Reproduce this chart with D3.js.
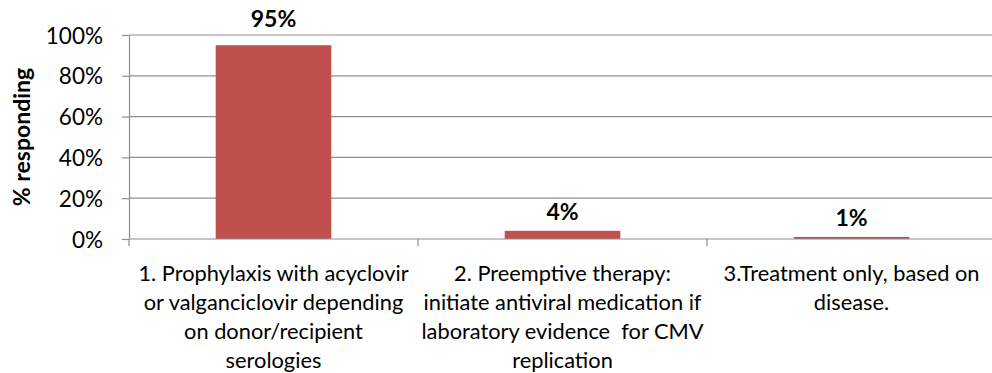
<!DOCTYPE html>
<html>
<head>
<meta charset="utf-8">
<script src="https://cdn.jsdelivr.net/npm/d3@7"></script>
<style>
  html, body { margin: 0; padding: 0; background: #fff; }
  svg { display: block; font-family: Lato, "Open Sans", sans-serif; }
</style>
</head>
<body>
<svg id="chart" width="992" height="373"></svg>
<script>
// Survey responses: approach to CMV management
const categories = [
  ["1. Prophylaxis with acyclovir", "or valganciclovir depending", "on donor/recipient", "serologies"],
  ["2. Preemptive therapy:", "initiate antiviral medication if", "laboratory evidence  for CMV", "replication"],
  ["3.Treatment only, based on", "disease."]
];
const values = [95, 4, 1];
const valueLabels = ["95%", "4%", "1%"];
const yTicks = [0, 20, 40, 60, 80, 100];
const yTickLabels = ["0%", "20%", "40%", "60%", "80%", "100%"];
const yTitle = "% responding";

const svg = d3.select("#chart");
const margin = { left: 129, right: -4, top: 35, bottom: 134 };
const W = 992, H = 373;
const innerW = W - margin.left - margin.right;
const innerH = H - margin.top - margin.bottom;

const g = svg.append("g").attr("transform", `translate(${margin.left},${margin.top})`);

const x = d3.scaleBand().domain(d3.range(categories.length)).range([0, innerW])
  .paddingInner(0.6).paddingOuter(0.3);
const xOuter = d3.scaleBand().domain(d3.range(categories.length)).range([0, innerW]);
const y = d3.scaleLinear().domain([0, 100]).range([innerH, 0]);

const gridColor = "#8f8f8f";

// horizontal gridlines
g.append("g").selectAll("line").data(yTicks.filter(d => d > 0)).join("line")
  .attr("x1", 0).attr("x2", innerW)
  .attr("y1", d => y(d)).attr("y2", d => y(d))
  .attr("stroke", gridColor).attr("stroke-width", 1.2);

// y axis
const yAxis = d3.axisLeft(y).tickValues(yTicks).tickSize(7).tickPadding(19)
  .tickFormat((d, i) => yTickLabels[i]);
const ya = g.append("g").call(yAxis);
ya.select(".domain").attr("stroke", gridColor).attr("stroke-width", 1.2);
ya.selectAll(".tick line").attr("stroke", gridColor).attr("stroke-width", 1.2);
ya.selectAll(".tick text").attr("font-size", 22.5).attr("fill", "#000")
  .attr("font-family", "Lato, sans-serif").attr("dy", "0.36em");

// bars
g.append("g").selectAll("rect").data(values).join("rect")
  .attr("x", (d, i) => x(i))
  .attr("width", x.bandwidth())
  .attr("y", d => y(d))
  .attr("height", d => innerH - y(d))
  .attr("fill", "#C0504D");

// x axis baseline and category boundary ticks
g.append("line").attr("x1", 0).attr("x2", innerW).attr("y1", innerH).attr("y2", innerH)
  .attr("stroke", gridColor).attr("stroke-width", 1.2);
const bounds = d3.range(categories.length + 1).map(i => i * xOuter.step());
g.append("g").selectAll("line").data(bounds).join("line")
  .attr("x1", d => d).attr("x2", d => d)
  .attr("y1", innerH).attr("y2", innerH + 7)
  .attr("stroke", gridColor).attr("stroke-width", 1.2);

// value labels above bars; a label that would sit on the top gridline is lifted clear of it
const labelY = d => {
  const ly = y(d) - 11;
  return (ly > -20 && ly < 4) ? -8 : ly;
};
g.append("g").selectAll("text").data(values).join("text")
  .attr("x", (d, i) => x(i) + x.bandwidth() / 2)
  .attr("y", labelY)
  .attr("text-anchor", "middle")
  .attr("font-weight", "bold").attr("font-size", 23).attr("fill", "#000")
  .text((d, i) => valueLabels[i]);

// category labels, multi-line
const cat = g.append("g").selectAll("text").data(categories).join("text")
  .attr("x", (d, i) => xOuter(i) + xOuter.bandwidth() / 2)
  .attr("y", innerH + 42)
  .attr("text-anchor", "middle")
  .attr("font-size", 21.8).attr("fill", "#000");
cat.selectAll("tspan").data(d => d).join("tspan")
  .attr("x", function () { return this.parentNode.getAttribute("x"); })
  .attr("dy", (d, i) => i === 0 ? 0 : 29)
  .attr("xml:space", "preserve")
  .style("white-space", "pre")
  .text(d => d);

// y axis title
svg.append("text")
  .attr("transform", `translate(30,${margin.top + innerH / 2}) rotate(-90)`)
  .attr("text-anchor", "middle")
  .attr("font-weight", "bold").attr("font-size", 23).attr("fill", "#000")
  .text(yTitle);
</script>
</body>
</html>
